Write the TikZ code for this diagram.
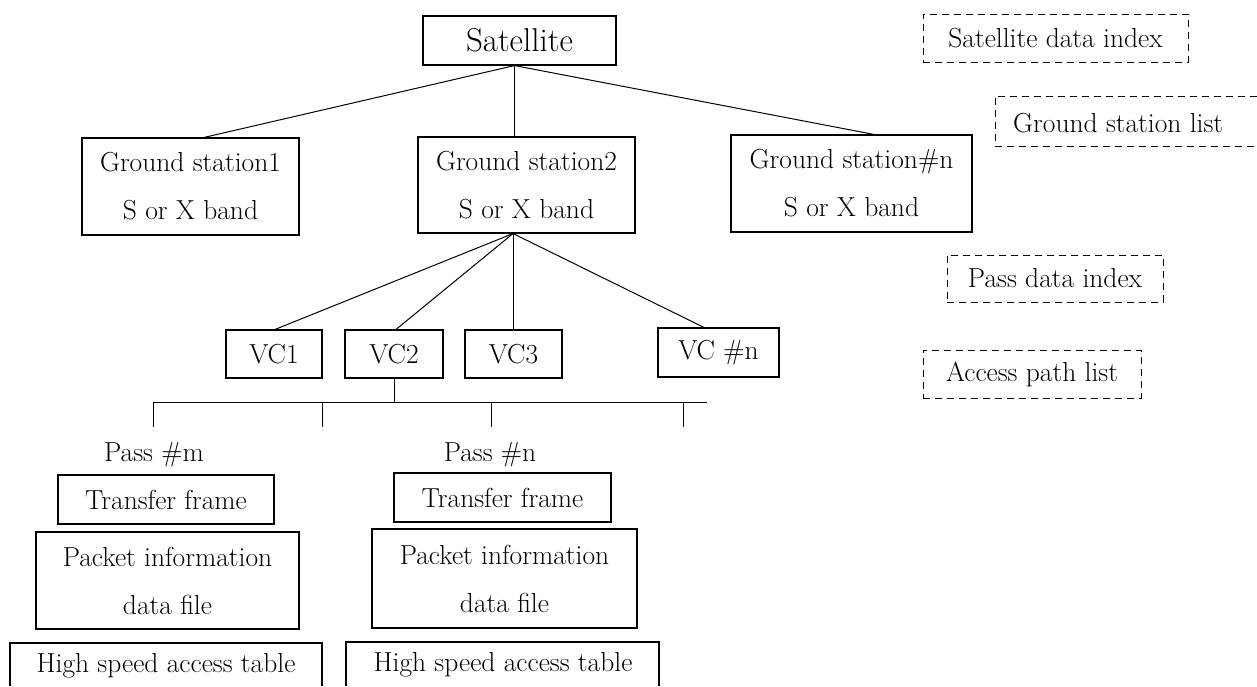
\documentclass[tikz,border=0pt]{standalone}
\usetikzlibrary{calc}
\newcommand\bodyfont{\fontsize{27.5}{48}\selectfont}
\newcommand\titlefont{\fontsize{33}{38}\selectfont}
\tikzset{
  box/.style={draw, line width=1.1pt, inner sep=0pt, align=center, font=\bodyfont},
  dbox/.style={draw, line width=0.9pt, dash pattern=on 7pt off 5pt, inner sep=0pt, font=\bodyfont},
  lbl/.style={inner sep=0pt, font=\bodyfont},
  edge/.style={line width=1pt},
  openbox/.style={line width=1.1pt},
  opend/.style={line width=0.9pt, dash pattern=on 7pt off 5pt},
}
\begin{document}
\begin{tikzpicture}[x=1pt,y=-1pt]
\useasboundingbox (0,0) rectangle (1257,686);
% top level
\node[box, font=\titlefont, minimum width=193pt, minimum height=49pt] (sat) at (519.5,40.5) {Satellite};
\node[box, minimum width=217pt, minimum height=97pt] (gs1) at (190.5,186.5) {Ground station1\\S or X band};
\node[box, minimum width=217pt, minimum height=96pt] (gs2) at (526.5,185) {Ground station2\\S or X band};
\node[box, minimum width=241pt, minimum height=97pt] (gsn) at (851.5,183.5) {Ground station\#n\\S or X band};
% VCs
\node[box, minimum width=96pt, minimum height=48pt] (vc1) at (274,354) {VC1};
\node[box, minimum width=98pt, minimum height=48pt] (vc2) at (394,354) {VC2};
\node[box, minimum width=97pt, minimum height=48pt] (vc3) at (513.5,354) {VC3};
\node[box, minimum width=121pt, minimum height=49pt] (vcn) at (718.5,352.5) {VC \#n};
% passes
\node[lbl] (pm) at (154,455) {Pass \#m};
\node[lbl] (pn) at (490,455) {Pass \#n};
\node[box, minimum width=216pt, minimum height=49pt] (tf1) at (166,499.5) {Transfer frame};
\node[box, minimum width=217pt, minimum height=49pt] (tf2) at (502.5,497.5) {Transfer frame};
\node[box, minimum width=263pt, minimum height=97pt] (pi1) at (167.5,580.5) {Packet information\\data file};
\node[box, minimum width=265pt, minimum height=99pt] (pi2) at (504.5,578.5) {Packet information\\data file};
\node[lbl] (hs1) at (166,666) {High speed access table};
\node[lbl] (hs2) at (503,665) {High speed access table};
\draw[openbox] (10,686) -- (10,643) -- (322,643) -- (322,686);
\draw[openbox] (346,686) -- (346,642) -- (659,642) -- (659,686);
% dashed legend boxes
\node[dbox, minimum width=265pt, minimum height=48pt] (sdi) at (1055.5,38) {Satellite data index};
\node[lbl, anchor=west] (gsl) at (1013,123) {Ground station list};
\draw[opend] (1257,96) -- (995,96) -- (995,146) -- (1257,146);
\node[dbox, minimum width=216pt, minimum height=47pt] (pdi) at (1055,278.5) {Pass data index};
\node[dbox, minimum width=218pt, minimum height=48pt] (apl) at (1032,374) {Access path list};
% connectors
\coordinate (satb) at ([xshift=-5pt]sat.south);
\draw[edge] (satb) -- ([xshift=13.5pt]gs1.north);
\draw[edge] (satb) -- (satb |- gs2.north);
\draw[edge] (satb) -- ([xshift=22.5pt]gsn.north);
\coordinate (hub) at ([xshift=-13.5pt]gs2.south);
\draw[edge] (hub) -- ([xshift=1pt]vc1.north);
\draw[edge] (hub) -- ([xshift=2pt]vc2.north);
\draw[edge] (hub) -- (hub |- vc3.north);
\draw[edge] (hub) -- ([xshift=-14.5pt]vcn.north);
% bus
\coordinate (bl) at (153,402);
\coordinate (br) at (707,402);
\coordinate (t1) at (153,427);
\coordinate (t2) at (322,427);
\coordinate (t3) at (491,427);
\coordinate (t4) at (683,427);
\draw[edge] (vc2.south) -- (vc2.south |- bl);
\draw[edge] (bl) -- (br);
\draw[edge] (bl) -- (t1);
\draw[edge] (t2 |- bl) -- (t2);
\draw[edge] (t3 |- bl) -- (t3);
\draw[edge] (t4 |- bl) -- (t4);
\end{tikzpicture}
\end{document}
